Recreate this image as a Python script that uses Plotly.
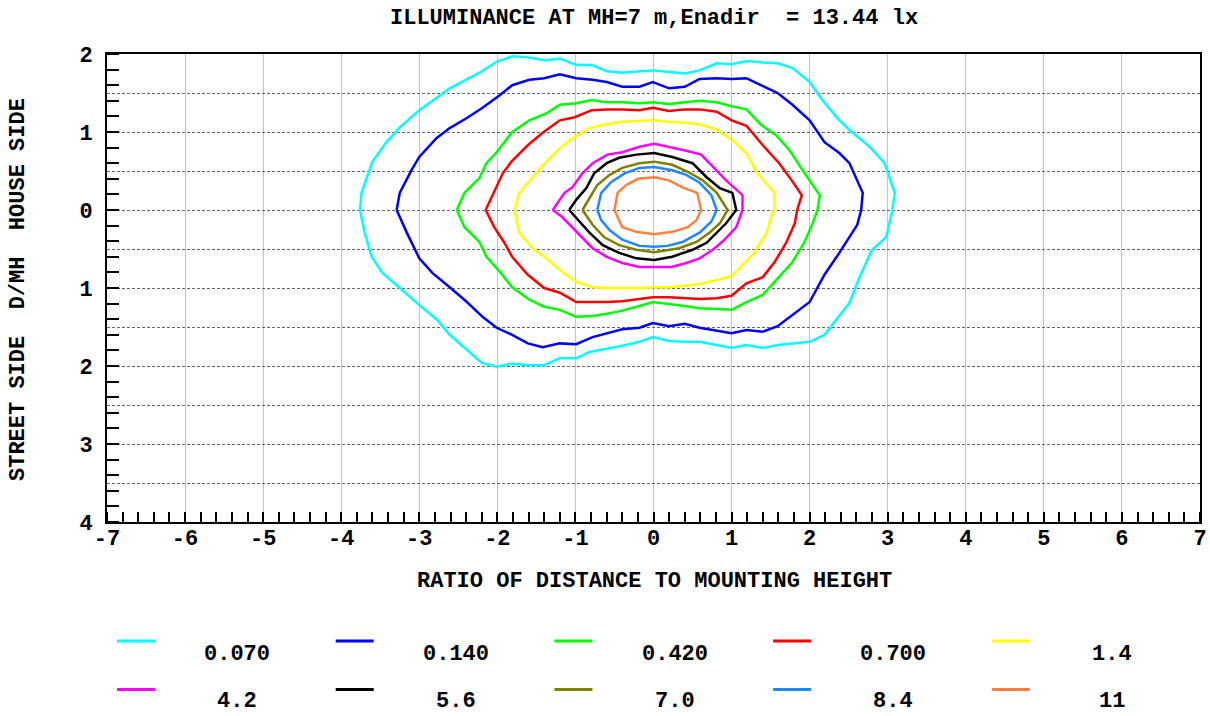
import plotly.graph_objects as go

# ---------------- data ----------------
levels = ["0.070", "0.140", "0.420", "0.700", "1.4", "4.2", "5.6", "7.0", "8.4", "11"]
colors = ["#00FFFF", "#0000FF", "#00FF00", "#FF0000", "#FFFF00",
          "#FF00FF", "#000000", "#808000", "#1E88FF", "#FF8040"]

pts_0070 = [(-3.76,0),(-3.74,0.22),(-3.67,0.42),(-3.60,0.62),(-3.42,0.87),(-3.25,1.06),(-3.00,1.28),
            (-2.61,1.56),(-2.23,1.76),(-2.01,1.90),(-1.81,1.97),(-1.63,1.96),(-1.40,1.92),(-1.20,1.94),
            (-0.99,1.86),(-0.79,1.86),(-0.60,1.78),(-0.40,1.76),(-0.18,1.78),(-0.01,1.79),(0.20,1.77),
            (0.40,1.75),(0.59,1.79),(0.81,1.88),(1.00,1.87),(1.19,1.91),(1.40,1.89),(1.59,1.88),
            (1.78,1.82),(2.00,1.64),(2.16,1.41),(2.38,1.15),(2.55,0.99),(2.77,0.81),(2.96,0.60),
            (3.09,0.22),(3.06,0),(2.98,-0.35),(2.80,-0.51),(2.64,-0.86),(2.51,-1.19),(2.19,-1.60),
            (2.00,-1.69),(1.78,-1.71),(1.59,-1.73),(1.40,-1.77),(1.19,-1.73),(1.00,-1.77),(0.81,-1.73),
            (0.59,-1.69),(0.40,-1.69),(0.20,-1.68),(-0.01,-1.63),(-0.18,-1.69),(-0.40,-1.74),(-0.60,-1.78),
            (-0.82,-1.82),(-0.99,-1.90),(-1.20,-1.90),(-1.40,-1.99),(-1.59,-1.99),(-1.81,-1.97),
            (-2.01,-2.01),(-2.20,-1.96),(-2.39,-1.79),(-2.61,-1.60),(-2.77,-1.41),(-3.00,-1.22),
            (-3.25,-1.00),(-3.47,-0.81),(-3.61,-0.60),(-3.70,-0.29)]

pts_0140 = [(-3.29,0),(-3.25,0.22),(-3.10,0.51),(-3.00,0.68),(-2.78,0.92),(-2.61,1.05),(-2.39,1.18),
            (-2.19,1.31),(-1.97,1.47),(-1.81,1.60),(-1.59,1.67),(-1.40,1.69),(-1.20,1.74),(-0.99,1.69),
            (-0.78,1.67),(-0.60,1.64),(-0.40,1.58),(-0.18,1.58),(-0.01,1.64),(0.20,1.56),(0.40,1.58),
            (0.59,1.68),(0.81,1.69),(1.00,1.68),(1.19,1.69),(1.38,1.60),(1.59,1.50),(1.78,1.35),
            (2.00,1.15),(2.19,0.87),(2.38,0.73),(2.51,0.60),(2.68,0.22),(2.66,0),(2.61,-0.19),
            (2.38,-0.55),(2.19,-0.83),(2.00,-1.18),(1.78,-1.35),(1.59,-1.49),(1.40,-1.56),(1.19,-1.54),
            (1.00,-1.58),(0.81,-1.55),(0.59,-1.51),(0.40,-1.46),(0.20,-1.49),(-0.01,-1.45),(-0.18,-1.51),
            (-0.40,-1.53),(-0.60,-1.58),(-0.78,-1.63),(-0.99,-1.72),(-1.20,-1.71),(-1.42,-1.76),
            (-1.61,-1.71),(-1.81,-1.60),(-2.01,-1.51),(-2.19,-1.37),(-2.39,-1.18),(-2.61,-0.99),
            (-2.83,-0.81),(-3.00,-0.62),(-3.16,-0.29)]

pts_0420 = [(-2.52,0),(-2.42,0.22),(-2.23,0.41),(-2.14,0.60),(-2.01,0.74),(-1.81,1.00),(-1.59,1.15),
            (-1.37,1.24),(-1.20,1.35),(-0.99,1.37),(-0.79,1.41),(-0.60,1.38),(-0.40,1.38),(-0.18,1.37),
            (-0.01,1.38),(0.20,1.36),(0.40,1.38),(0.59,1.40),(0.81,1.38),(1.00,1.33),(1.19,1.29),
            (1.38,1.09),(1.57,0.96),(1.74,0.77),(1.91,0.51),(2.13,0.19),(2.10,0),(2.04,-0.17),
            (1.93,-0.42),(1.77,-0.68),(1.57,-0.90),(1.40,-1.09),(1.19,-1.18),(1.00,-1.28),(0.81,-1.27),
            (0.59,-1.26),(0.40,-1.23),(0.20,-1.21),(-0.01,-1.18),(-0.18,-1.23),(-0.40,-1.29),
            (-0.60,-1.33),(-0.78,-1.36),(-0.99,-1.37),(-1.20,-1.28),(-1.40,-1.24),(-1.59,-1.15),
            (-1.81,-0.99),(-1.97,-0.79),(-2.14,-0.60),(-2.23,-0.41),(-2.42,-0.22)]

pts_0700 = [(-2.15,0),(-2.04,0.23),(-1.93,0.47),(-1.82,0.62),(-1.61,0.83),(-1.42,0.99),(-1.20,1.15),
            (-1.01,1.19),(-0.79,1.28),(-0.60,1.29),(-0.40,1.29),(-0.18,1.28),(-0.01,1.31),(0.20,1.27),
            (0.40,1.29),(0.59,1.29),(0.81,1.26),(1.00,1.15),(1.19,1.08),(1.40,0.83),(1.61,0.60),
            (1.77,0.38),(1.90,0.19),(1.84,0),(1.81,-0.17),(1.70,-0.42),(1.55,-0.67),(1.40,-0.86),
            (1.19,-0.94),(1.00,-1.10),(0.81,-1.13),(0.59,-1.14),(0.40,-1.13),(0.20,-1.12),(-0.01,-1.12),
            (-0.18,-1.14),(-0.40,-1.17),(-0.60,-1.18),(-0.78,-1.18),(-0.99,-1.18),(-1.20,-1.06),
            (-1.40,-1.00),(-1.61,-0.83),(-1.81,-0.60),(-1.91,-0.42),(-2.04,-0.22)]

pts_1_4 = [(-1.78,0),(-1.72,0.22),(-1.55,0.42),(-1.37,0.62),(-1.20,0.79),(-1.04,0.92),(-0.82,1.05),
           (-0.60,1.10),(-0.40,1.13),(-0.18,1.14),(-0.01,1.15),(0.20,1.13),(0.40,1.12),(0.59,1.10),
           (0.81,1.03),(1.00,0.90),(1.19,0.73),(1.33,0.47),(1.55,0.22),(1.55,0),(1.52,-0.04),
           (1.45,-0.29),(1.29,-0.55),(1.00,-0.85),(0.81,-0.90),(0.59,-0.95),(0.40,-0.97),(0.20,-0.99),
           (-0.01,-0.99),(-0.18,-1.00),(-0.40,-1.00),(-0.60,-1.00),(-0.78,-0.99),(-0.99,-0.92),
           (-1.20,-0.77),(-1.37,-0.62),(-1.55,-0.49),(-1.72,-0.29)]

pts_4_2 = [(-1.29,0),(-1.14,0.22),(-1.04,0.29),(-0.91,0.47),(-0.78,0.60),(-0.59,0.71),(-0.40,0.74),
           (-0.18,0.81),(0.01,0.85),(0.20,0.81),(0.42,0.76),(0.61,0.71),(0.76,0.55),(0.93,0.38),
           (1.14,0.19),(1.14,0),(1.06,-0.22),(0.91,-0.38),(0.76,-0.51),(0.59,-0.62),(0.42,-0.68),
           (0.23,-0.73),(0.01,-0.73),(-0.18,-0.73),(-0.40,-0.68),(-0.60,-0.60),(-0.78,-0.49),
           (-0.91,-0.36),(-1.04,-0.22),(-1.17,-0.09)]

pts_5_6 = [(-1.08,0),(-0.99,0.13),(-0.86,0.28),(-0.76,0.47),(-0.60,0.60),(-0.44,0.67),(-0.22,0.71),
           (0.01,0.73),(0.24,0.68),(0.50,0.60),(0.68,0.42),(0.85,0.28),(1.01,0.22),(1.06,0),
           (0.93,-0.17),(0.81,-0.29),(0.68,-0.42),(0.50,-0.51),(0.24,-0.60),(0.01,-0.64),(-0.22,-0.62),
           (-0.44,-0.55),(-0.65,-0.45),(-0.82,-0.29),(-0.95,-0.15)]

pts_7_0 = [(-0.91,0),(-0.82,0.15),(-0.72,0.32),(-0.56,0.45),(-0.40,0.54),(-0.18,0.60),(0.01,0.62),
           (0.24,0.58),(0.44,0.49),(0.63,0.38),(0.81,0.22),(0.95,0),(0.85,-0.17),(0.72,-0.29),
           (0.55,-0.41),(0.33,-0.49),(0.01,-0.54),(-0.22,-0.51),(-0.44,-0.45),(-0.63,-0.35),(-0.78,-0.19)]

pts_8_4 = [(-0.72,0),(-0.67,0.22),(-0.54,0.36),(-0.37,0.47),(-0.18,0.54),(0.01,0.55),(0.24,0.51),
           (0.42,0.45),(0.59,0.35),(0.74,0.19),(0.81,0),(0.74,-0.15),(0.59,-0.29),(0.37,-0.41),
           (0.18,-0.46),(0.01,-0.47),(-0.18,-0.46),(-0.40,-0.38),(-0.56,-0.26),(-0.67,-0.13)]

pts_11 = [(-0.50,0),(-0.46,0.22),(-0.35,0.32),(-0.20,0.40),(0.01,0.42),(0.20,0.38),(0.37,0.29),
          (0.56,0.22),(0.61,0),(0.55,-0.13),(0.44,-0.22),(0.24,-0.28),(0.01,-0.31),(-0.22,-0.28),
          (-0.40,-0.22),(-0.46,-0.10)]

contours = [pts_0070, pts_0140, pts_0420, pts_0700, pts_1_4,
            pts_4_2, pts_5_6, pts_7_0, pts_8_4, pts_11]

x_ticks = list(range(-7, 8))
x_ticktext = [str(v) for v in x_ticks]
y_ticks = [v / 2 for v in range(-8, 5)]
y_ticktext = [str(abs(int(v))) if v == int(v) else "" for v in y_ticks]

title_text = "ILLUMINANCE AT MH=7 m,Enadir\u00a0\u00a0= 13.44 lx"
x_title = "RATIO OF DISTANCE TO MOUNTING HEIGHT"
y_title = "STREET SIDE\u00a0\u00a0D/MH\u00a0\u00a0HOUSE SIDE"

# ---------------- figure ----------------
W, H = 1210, 716
L, R, T, B = 107, 10, 54, 194
FONT = "Liberation Mono, Courier New, monospace"
FS = 22


def px_to_paper(px, py):
    return (px - L) / (W - L - R), (H - B - py) / (H - T - B)


def bold(size=FS):
    return dict(family=FONT, size=size, color="black", weight="bold")


fig = go.Figure()
for pts, col, lev in zip(contours, colors, levels):
    xs = [p[0] for p in pts] + [pts[0][0]]
    ys = [p[1] for p in pts] + [pts[0][1]]
    fig.add_trace(go.Scatter(x=xs, y=ys, mode="lines", name=lev,
                             line=dict(color=col, width=2.5), showlegend=False))

# custom legend (2 rows x 5 columns)
shapes = []
annotations = []
for i, (lev, col) in enumerate(zip(levels, colors)):
    row, c = divmod(i, 5)
    lx0 = 117 + c * 218.7
    ly = 641 + row * 48.5
    x0, y0 = px_to_paper(lx0, ly)
    x1, _ = px_to_paper(lx0 + 38, ly)
    shapes.append(dict(type="line", xref="paper", yref="paper", x0=x0, x1=x1, y0=y0, y1=y0,
                       line=dict(color=col, width=3)))
    tx, ty = px_to_paper(237 + c * 218.8, 654 + row * 47)
    annotations.append(dict(xref="paper", yref="paper", x=tx, y=ty, text=lev, showarrow=False,
                            xanchor="center", yanchor="middle", font=bold()))

xt_x, xt_y = px_to_paper(654, 581)
annotations.append(dict(xref="paper", yref="paper", x=xt_x, y=xt_y, text=x_title, showarrow=False,
                        xanchor="center", yanchor="middle", font=bold()))
yt_x, yt_y = px_to_paper(18, 290)
annotations.append(dict(xref="paper", yref="paper", x=yt_x, y=yt_y, text=y_title, showarrow=False,
                        textangle=-90, xanchor="center", yanchor="middle", font=bold()))
tt_x, tt_y = px_to_paper(654, 18)
annotations.append(dict(xref="paper", yref="paper", x=tt_x, y=tt_y, text=title_text, showarrow=False,
                        xanchor="center", yanchor="middle", font=bold()))

fig.update_layout(
    width=W, height=H,
    margin=dict(l=L, r=R, t=T, b=B, autoexpand=False),
    paper_bgcolor="white", plot_bgcolor="white",
    showlegend=False,
    shapes=shapes,
    annotations=annotations,
    font=bold(),
    xaxis=dict(range=[-7, 7], tickmode="array", tickvals=x_ticks, ticktext=x_ticktext,
               automargin=False,
               showgrid=True, gridcolor="#c4c4c4", gridwidth=1, zeroline=False,
               ticks="", showline=True, linecolor="black", linewidth=2, mirror=True,
               ticklabelstandoff=-5, tickfont=bold(),
               minor=dict(tickmode="linear", tick0=0, dtick=0.2, ticks="inside", ticklen=10,
                          tickwidth=2, tickcolor="black", showgrid=False)),
    yaxis=dict(range=[-4, 2], tickmode="array", tickvals=y_ticks, ticktext=y_ticktext,
               automargin=False,
               showgrid=True, gridcolor="#666666", gridwidth=1, griddash="3px,2px", zeroline=False,
               ticks="", showline=True, linecolor="black", linewidth=2, mirror=True,
               ticklabelstandoff=8, tickfont=bold(),
               minor=dict(tickmode="linear", tick0=0, dtick=0.2, ticks="inside", ticklen=12,
                          tickwidth=2, tickcolor="black", showgrid=False)),
)

fig.write_html("out.html", config={"displayModeBar": False},
               post_script="document.body.style.margin='0px';document.body.style.overflow='hidden';")
